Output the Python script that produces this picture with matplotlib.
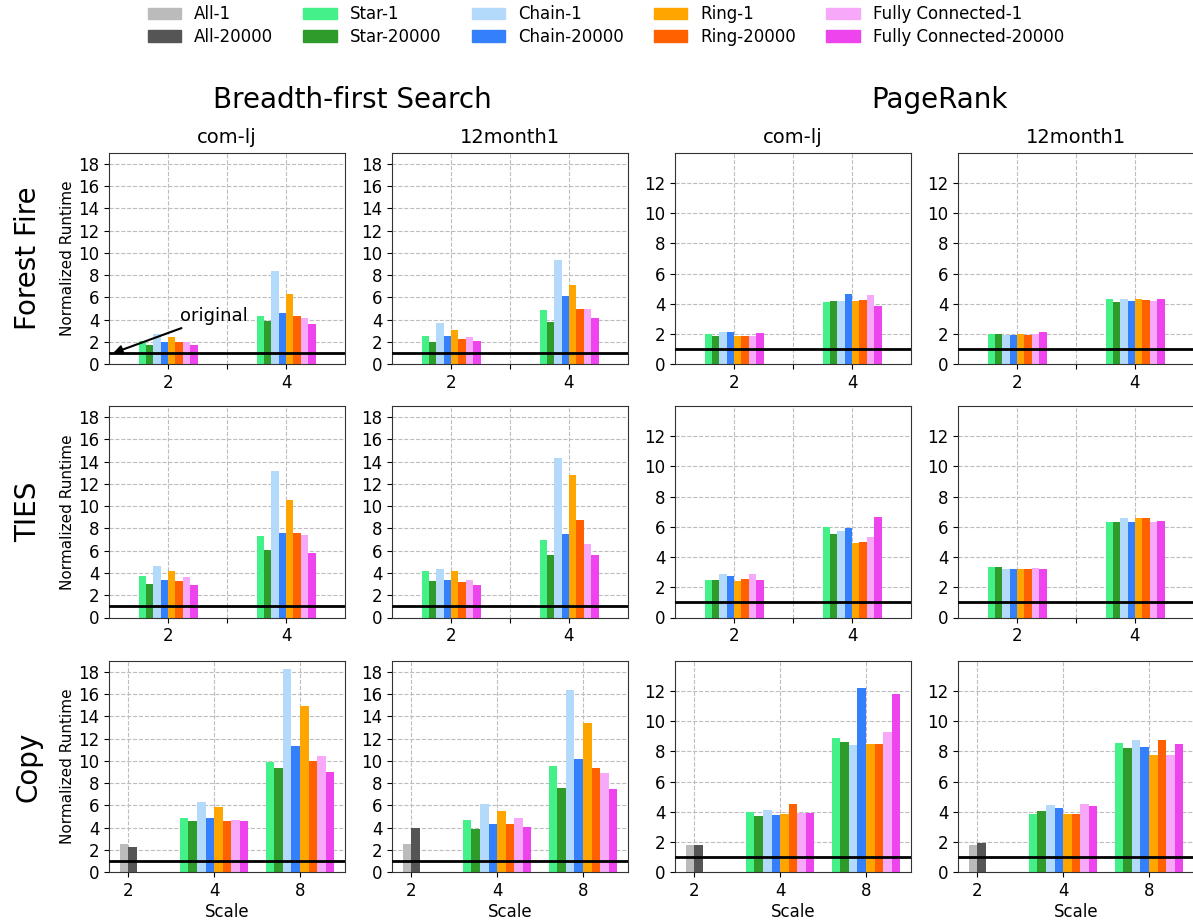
import matplotlib
matplotlib.use("Agg")
import matplotlib.pyplot as plt
from matplotlib.patches import Patch

# series / colours
series = ['Star-1', 'Star-20000', 'Chain-1', 'Chain-20000',
          'Ring-1', 'Ring-20000', 'Fully Connected-1', 'Fully Connected-20000']
colors = ['#44f088', '#2e9b2a', '#b3d9fb', '#3480fc',
          '#ffa500', '#ff6000', '#f8a8f8', '#ee44ee']
all_labels = ['All-1', 'All-20000']
all_colors = ['#bbbbbb', '#555555']

scales_small = ['2', '4']
scales_copy = ['2', '4', '8']

# Forest Fire (scale 2, scale 4)
ff_bfs_comlj = [[2.1, 1.75, 2.7, 2.0, 2.45, 1.95, 1.98, 1.75],
                [4.35, 3.9, 8.4, 4.6, 6.35, 4.35, 4.15, 3.65]]
ff_bfs_12m = [[2.55, 2.0, 3.7, 2.55, 3.1, 2.3, 2.45, 2.1],
              [4.9, 3.8, 9.4, 6.15, 7.15, 5.0, 5.0, 4.15]]
ff_pr_comlj = [[2.0, 1.88, 2.14, 2.14, 1.88, 1.88, 1.88, 2.08],
               [4.13, 4.2, 4.2, 4.66, 4.2, 4.27, 4.6, 3.87]]
ff_pr_12m = [[2.0, 2.0, 1.94, 1.94, 2.0, 1.94, 2.0, 2.14],
             [4.33, 4.13, 4.33, 4.2, 4.33, 4.27, 4.2, 4.33]]

# TIES
ties_bfs_comlj = [[3.7, 3.05, 4.6, 3.4, 4.15, 3.25, 3.6, 2.9],
                  [7.3, 6.1, 13.15, 7.55, 10.6, 7.55, 7.4, 5.75]]
ties_bfs_12m = [[4.15, 3.25, 4.4, 3.4, 4.15, 3.15, 3.4, 2.9],
                [7.0, 5.6, 14.3, 7.5, 12.8, 8.75, 6.6, 5.6]]
ties_pr_comlj = [[2.45, 2.45, 2.85, 2.72, 2.4, 2.52, 2.85, 2.45],
                 [5.97, 5.5, 5.7, 5.9, 4.9, 4.97, 5.3, 6.63]]
ties_pr_12m = [[3.31, 3.31, 3.18, 3.18, 3.18, 3.18, 3.25, 3.18],
               [6.3, 6.3, 6.56, 6.3, 6.56, 6.56, 6.3, 6.36]]

# Copy (All at scale 2, series at scale 4 and 8)
copy_all_bfs_comlj = [2.5, 2.22]
copy_bfs_comlj = [[4.83, 4.56, 6.27, 4.83, 5.82, 4.56, 4.65, 4.56],
                  [9.87, 9.33, 18.25, 11.3, 14.9, 9.96, 10.4, 8.97]]
copy_all_bfs_12m = [2.5, 4.0]
copy_bfs_12m = [[4.65, 3.84, 6.1, 4.3, 5.46, 4.3, 4.83, 4.02],
                [9.5, 7.53, 16.35, 10.15, 13.38, 9.33, 8.9, 7.5]]
copy_all_pr_comlj = [1.77, 1.77]
copy_pr_comlj = [[3.98, 3.69, 4.09, 3.76, 3.82, 4.49, 3.89, 3.89],
                 [8.86, 8.6, 8.4, 12.18, 8.46, 8.46, 9.26, 11.8]]
copy_all_pr_12m = [1.83, 1.9]
copy_pr_12m = [[3.82, 4.02, 4.42, 4.22, 3.82, 3.82, 4.49, 4.35],
               [8.53, 8.2, 8.73, 8.27, 7.73, 8.73, 7.73, 8.46]]

rows = [
    [ff_bfs_comlj, ff_bfs_12m, ff_pr_comlj, ff_pr_12m],
    [ties_bfs_comlj, ties_bfs_12m, ties_pr_comlj, ties_pr_12m],
    [copy_bfs_comlj, copy_bfs_12m, copy_pr_comlj, copy_pr_12m],
]
copy_all = [copy_all_bfs_comlj, copy_all_bfs_12m, copy_all_pr_comlj, copy_all_pr_12m]
row_names = ['Forest Fire', 'TIES', 'Copy']
col_names = ['com-lj', '12month1', 'com-lj', '12month1']

W, H = 1193, 923
fig = plt.figure(figsize=(W / 100, H / 100), dpi=100)

lefts = [109, 392, 675, 958]
tops = [152.7, 406, 660.7]
aw, ah = 236, 211.5

for r in range(3):
    for c in range(4):
        ax = fig.add_axes([lefts[c] / W, 1 - (tops[r] + ah) / H, aw / W, ah / H])
        data = rows[r][c]
        if r < 2:
            w = 0.125
            pos = [2, 4]
            for g, vals in enumerate(data):
                for i, v in enumerate(vals):
                    ax.bar(pos[g] + (i - 3.5) * w, v, w, color=colors[i])
            ax.set_xlim(1, 5)
            ax.set_xticks([2, 3, 4])
            ax.set_xticklabels([scales_small[0], '', scales_small[1]])
        else:
            w = 0.1
            for i, v in enumerate(copy_all[c]):
                ax.bar((i - 0.5) * w, v, w, color=all_colors[i])
            for g, vals in enumerate(data):
                for i, v in enumerate(vals):
                    ax.bar(g + 1 + (i - 3.5) * w, v, w, color=colors[i])
            ax.set_xlim(-0.225, 2.525)
            ax.set_xticks([0, 1, 2])
            ax.set_xticklabels(scales_copy)
            ax.set_xlabel('Scale', fontsize=12, labelpad=2)
        ax.axhline(1, color='black', lw=2, zorder=3)
        if c < 2:
            ax.set_ylim(0, 19)
            ax.set_yticks(range(0, 19, 2))
        else:
            ax.set_ylim(0, 14)
            ax.set_yticks(range(0, 13, 2))
        ax.grid(True, ls='--', color='#bdbdbd', lw=0.8)
        ax.set_axisbelow(True)
        ax.tick_params(labelsize=12)
        for sp in ax.spines.values():
            sp.set_color('#333333')
        if c == 0:
            ax.set_ylabel('Normalized Runtime', fontsize=11, labelpad=2)
        if r == 0:
            ax.set_title(col_names[c], fontsize=14, pad=7)
        if r == 0 and c == 0:
            ax.annotate('original', xy=(1.07, 1.0), xytext=(2.2, 4.3),
                        fontsize=13, va='center',
                        arrowprops=dict(arrowstyle='-|>', color='black', lw=1.5,
                                        shrinkA=0, shrinkB=0))

for r in range(3):
    yc = 1 - (tops[r] + ah / 2) / H
    fig.text(28 / W, yc, row_names[r], rotation=90, fontsize=20,
             ha='center', va='center')

fig.text(352 / W, 1 - 100 / H, 'Breadth-first Search', fontsize=20, ha='center', va='center')
fig.text(939 / W, 1 - 100 / H, 'PageRank', fontsize=20, ha='center', va='center')

handles = [Patch(color=col, label=lab) for lab, col in zip(all_labels, all_colors)]
handles += [Patch(color=col, label=lab) for lab, col in zip(series, colors)]
fig.legend(handles=handles, ncol=5, loc='upper center', bbox_to_anchor=(606 / W, 1.005),
           frameon=False, fontsize=12, columnspacing=1.8, handlelength=2.0,
           labelspacing=0.25, borderaxespad=0.2)

fig.savefig('out.png', dpi=100)
